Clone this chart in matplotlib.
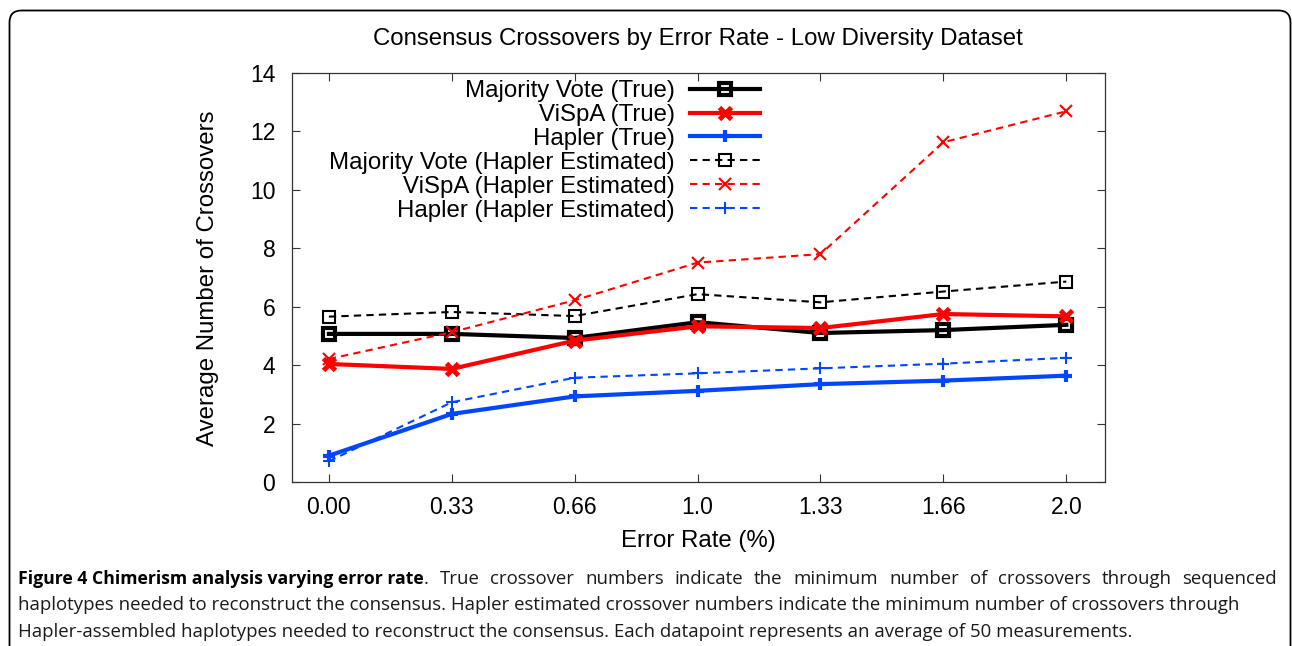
import matplotlib
matplotlib.use("Agg")
import matplotlib.pyplot as plt
from matplotlib.patches import FancyBboxPatch

# ---- data ----
x_labels = ["0.00", "0.33", "0.66", "1.0", "1.33", "1.66", "2.0"]
x_vals = [0.0, 1/3, 2/3, 1.0, 4/3, 5/3, 2.0]

mv_true = [5.07, 5.07, 4.93, 5.47, 5.10, 5.20, 5.38]
vispa_true = [4.04, 3.87, 4.84, 5.33, 5.27, 5.75, 5.67]
hapler_true = [0.90, 2.33, 2.93, 3.12, 3.35, 3.47, 3.64]
mv_est = [5.66, 5.82, 5.68, 6.43, 6.15, 6.52, 6.86]
vispa_est = [4.21, 5.13, 6.22, 7.51, 7.80, 11.63, 12.69]
hapler_est = [0.71, 2.73, 3.57, 3.72, 3.89, 4.05, 4.25]

labels = ["Majority Vote (True)", "ViSpA (True)", "Hapler (True)",
          "Majority Vote (Hapler Estimated)", "ViSpA (Hapler Estimated)",
          "Hapler (Hapler Estimated)"]

title = "Consensus Crossovers by Error Rate - Low Diversity Dataset"
xlabel = "Error Rate (%)"
ylabel = "Average Number of Crossovers"
cap_bold = "Figure 4 Chimerism analysis varying error rate"
cap_line1 = ". True crossover numbers indicate the minimum number of crossovers through sequenced"
cap_line2 = "haplotypes needed to reconstruct the consensus. Hapler estimated crossover numbers indicate the minimum number of crossovers through"
cap_line3 = "Hapler-assembled haplotypes needed to reconstruct the consensus. Each datapoint represents an average of 50 measurements."

W, H = 1292, 646
fig = plt.figure(figsize=(W / 100, H / 100), dpi=100)

# background axes in pixel coordinates
bg = fig.add_axes([0, 0, 1, 1])
bg.set_xlim(0, W)
bg.set_ylim(H, 0)
bg.axis("off")
frame = FancyBboxPatch((9.5, 10.5), 1281, 700, boxstyle="round,pad=0,rounding_size=12",
                       fc="white", ec="black", lw=1.3)
bg.add_patch(frame)

fs = 17.3
tfs = 16.5
ff = ["Liberation Sans", "DejaVu Sans"]
ax = fig.add_axes([292 / W, 1 - 482 / H, (1105 - 292) / W, (482 - 73) / H])
ax.set_facecolor("none")

blue = "#0046ff"
dash = (0, (3.5, 2.5))
ax.plot(x_vals, mv_true, color="black", lw=3, marker="s", ms=9, mfc="none", mew=3, label=labels[0])
ax.plot(x_vals, vispa_true, color="red", lw=3, marker="x", ms=8, mew=3.5, label=labels[1])
ax.plot(x_vals, hapler_true, color=blue, lw=3, marker="+", ms=9, mew=3, label=labels[2])
ax.plot(x_vals, mv_est, color="black", lw=1.5, ls=dash, marker="s", ms=8, mfc="none", mew=1.5, label=labels[3])
ax.plot(x_vals, vispa_est, color="red", lw=1.5, ls=dash, marker="x", ms=8, mew=1.5, label=labels[4])
ax.plot(x_vals, hapler_est, color=blue, lw=1.5, ls=dash, marker="+", ms=9, mew=1.5, label=labels[5])

ax.set_xlim(-0.1, 2.105)
ax.set_ylim(0, 14)
ax.set_xticks(x_vals)
ax.set_xticklabels(x_labels, fontsize=tfs, family=ff)
ax.set_yticks(range(0, 15, 2))
ax.set_yticklabels([str(v) for v in range(0, 15, 2)], fontsize=tfs, family=ff)
ax.tick_params(direction="in", length=6, width=0.8, top=True, right=True, color="#333333")
ax.tick_params(axis="y", pad=12)
ax.tick_params(axis="x", pad=10)
for s in ax.spines.values():
    s.set_linewidth(0.9)
    s.set_color("#333333")

leg = ax.legend(loc="upper right", bbox_to_anchor=(760 / W, 1 - 80 / H), bbox_transform=fig.transFigure,
                frameon=False, markerfirst=False, prop={"family": ff, "size": fs},
                handlelength=2.9, handletextpad=0.65, labelspacing=0.08, borderpad=0, borderaxespad=0)

fig.text(698 / W, 1 - 39 / H, title, ha="center", va="center", fontsize=fs, family=ff)
fig.text(698 / W, 1 - 541 / H, xlabel, ha="center", va="center", fontsize=fs, family=ff)
fig.text(208 / W, 1 - 278 / H, ylabel, ha="center", va="center", rotation=90, fontsize=fs, family=ff)

# caption
cfs = 13.4
cff = ["Open Sans", "DejaVu Sans"]
ccol = "#1a1a1a"
t_bold = bg.text(18, 579, cap_bold, fontsize=12.7, family=cff, weight="bold", va="center", ha="left")
fig.canvas.draw()
r = fig.canvas.get_renderer()
bb = t_bold.get_window_extent(renderer=r)

# first line justified to the right margin
words = cap_line1.split(" ")
wtexts = [bg.text(0, 579, w, fontsize=cfs, family=cff, va="center", ha="left", color=ccol) for w in words]
widths = [t.get_window_extent(renderer=r).width for t in wtexts]
x0 = bb.x1
right = 1277
gap = (right - x0 - sum(widths)) / (len(words) - 1)
xx = x0
for t, wdt in zip(wtexts, widths):
    t.set_x(xx)
    xx += wdt + gap

bg.text(18, 605.5, cap_line2, fontsize=cfs, family=cff, va="center", ha="left", color=ccol)
bg.text(18, 632, cap_line3, fontsize=cfs, family=cff, va="center", ha="left", color=ccol)

fig.savefig("out.png", dpi=100)
